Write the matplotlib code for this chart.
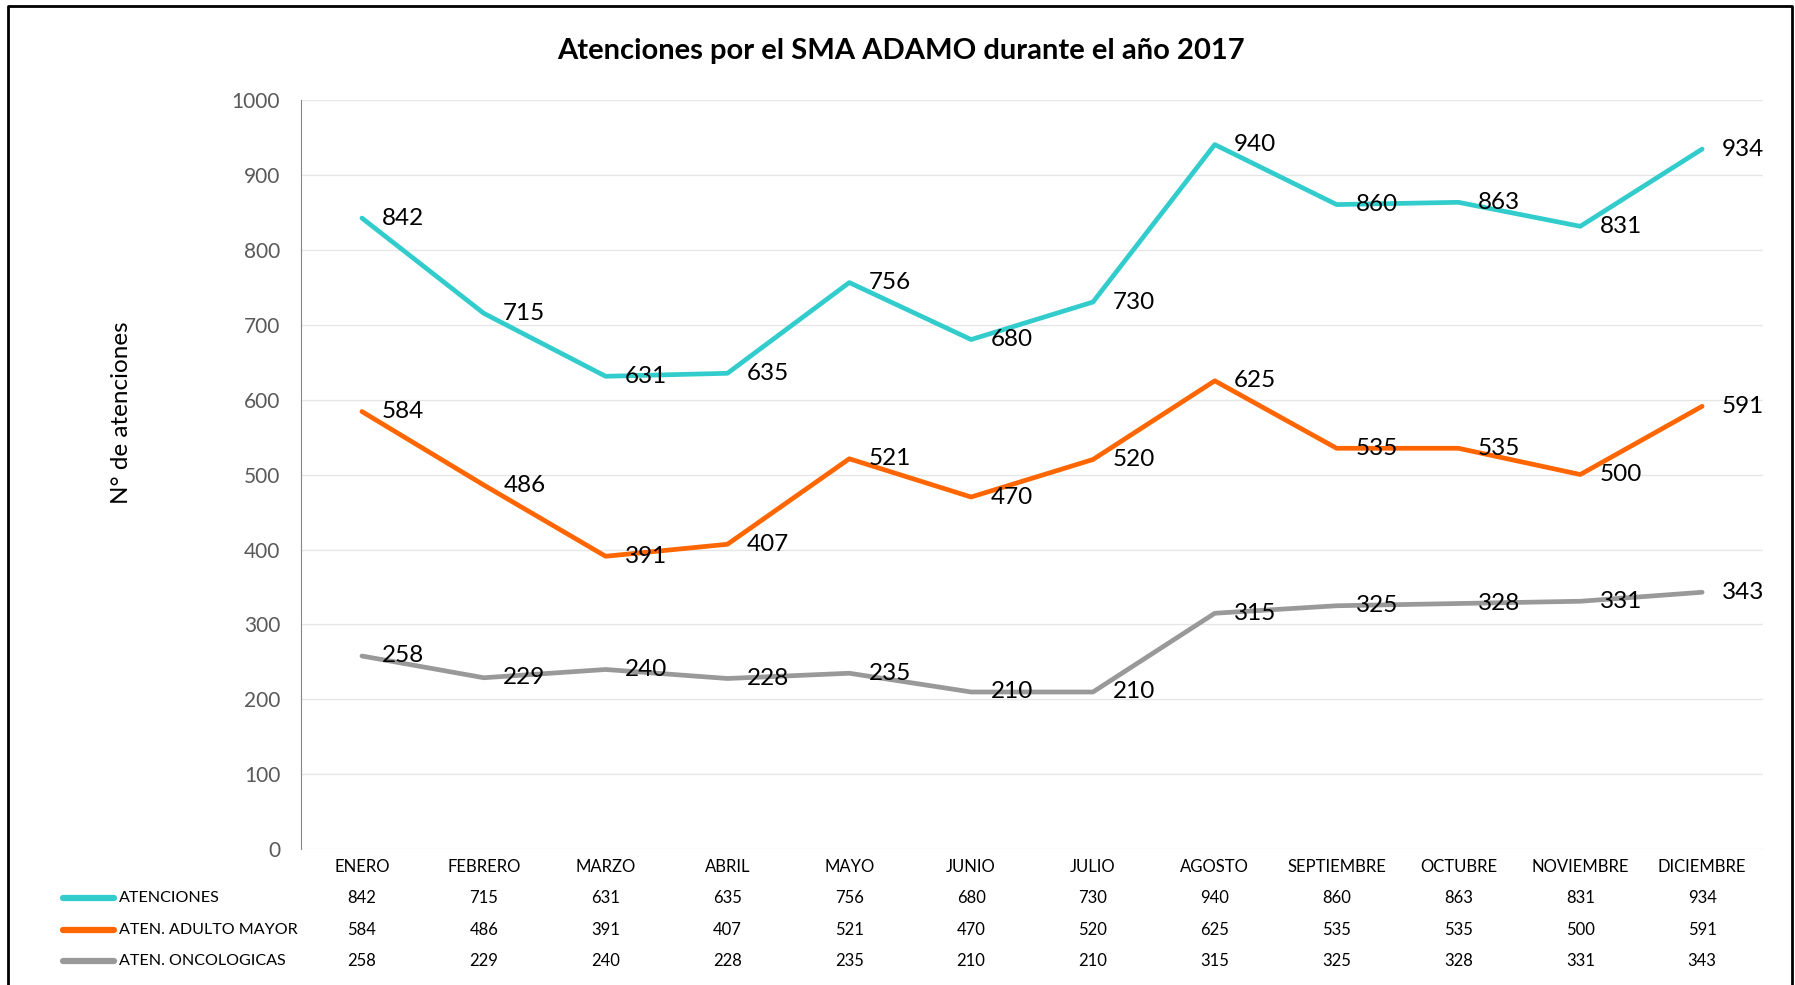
import matplotlib
matplotlib.use('Agg')
import matplotlib.pyplot as plt
from matplotlib.lines import Line2D
from matplotlib.transforms import blended_transform_factory

plt.rcParams['font.family'] = ['Lato', 'DejaVu Sans']

months = ['ENERO', 'FEBRERO', 'MARZO', 'ABRIL', 'MAYO', 'JUNIO', 'JULIO',
          'AGOSTO', 'SEPTIEMBRE', 'OCTUBRE', 'NOVIEMBRE', 'DICIEMBRE']
atenciones = [842, 715, 631, 635, 756, 680, 730, 940, 860, 863, 831, 934]
adulto_mayor = [584, 486, 391, 407, 521, 470, 520, 625, 535, 535, 500, 591]
oncologicas = [258, 229, 240, 228, 235, 210, 210, 315, 325, 328, 331, 343]

series = [
    ('ATENCIONES', atenciones, '#33CCCC'),
    ('ATEN. ADULTO MAYOR', adulto_mayor, '#FF6600'),
    ('ATEN. ONCOLOGICAS', oncologicas, '#999999'),
]

fig = plt.figure(figsize=(17.95, 9.85), dpi=100)
ax = fig.add_axes([0.1677, 0.1376, 0.9822 - 0.1677, 0.8989 - 0.1376])

x = list(range(len(months)))
for name, vals, color in series:
    ax.plot(x, vals, color=color, lw=3.4, solid_capstyle='round', zorder=3)
    for xi, v in zip(x, vals):
        ax.annotate(str(v), (xi, v), xytext=(14, 0), textcoords='offset points',
                    ha='left', va='center', fontsize=17.5, color='black', zorder=4)

ax.set_xlim(-0.5, len(months) - 0.5)
ax.set_ylim(0, 1000)
ax.set_yticks(range(0, 1001, 100))
ax.tick_params(axis='y', length=0, pad=15, labelsize=15, labelcolor='#595959')
ax.set_xticks([])
ax.grid(axis='y', color='#E6E6E6', lw=1)
ax.set_axisbelow(True)
for s in ['top', 'right', 'bottom']:
    ax.spines[s].set_visible(False)
ax.spines['left'].set_color('#868686')

# y label placed where the original has it (not centred on the axes)
fig.text(122 / 1795, 1 - 413 / 985, 'N° de atenciones', rotation=90,
         ha='center', va='center', fontsize=17.5, color='black')

fig.text(0.502, 1 - 51 / 985, 'Atenciones por el SMA ADAMO durante el año 2017',
         ha='center', va='center', fontsize=21, fontweight='bold')

# data table under the plot
tr = blended_transform_factory(ax.transData, fig.transFigure)
row_y = [1 - 867 / 985, 1 - 898 / 985, 1 - 930 / 985, 1 - 961 / 985]
for xi, m in zip(x, months):
    ax.text(xi, row_y[0], m, transform=tr, ha='center', va='center',
            fontsize=12, color='black', clip_on=False)
for (name, vals, color), yy in zip(series, row_y[1:]):
    for xi, v in zip(x, vals):
        ax.text(xi, yy, str(v), transform=tr, ha='center', va='center',
                fontsize=12, color='black', clip_on=False)
    fig.add_artist(Line2D([63 / 1795, 114 / 1795], [yy, yy], color=color, lw=4.5,
                          solid_capstyle='round', transform=fig.transFigure))
    fig.text(119 / 1795, yy, name, ha='left', va='center', fontsize=11.6, color='black')

# outer frame (open at the bottom)
fig.add_artist(Line2D([8 / 1795, 8 / 1795, 1792 / 1795, 1792 / 1795],
                      [-0.01, 1 - 6 / 985, 1 - 6 / 985, -0.01],
                      color='black', lw=2, transform=fig.transFigure))

fig.savefig('out.png', dpi=100)
